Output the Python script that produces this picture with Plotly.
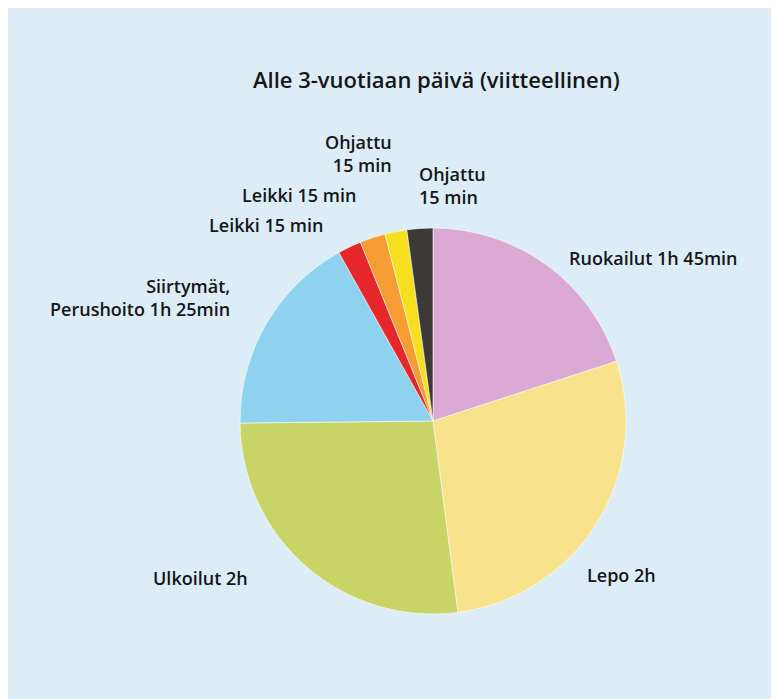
import plotly.graph_objects as go

W, H = 779, 699

# Slices, clockwise from 12 o'clock (sizes as drawn, in degrees)
categories = ["Ruokailut", "Lepo", "Ulkoilut", "Siirtymät, Perushoito",
              "Leikki (1)", "Leikki (2)", "Ohjattu (1)", "Ohjattu (2)"]
drawn_share = [72.0, 100.6, 96.8, 61.4, 7.1, 7.7, 6.6, 7.8]
slice_colors = ["#dba9d4", "#f8e38c", "#c8d466", "#8fd2ef",
                "#e5262b", "#f59d32", "#f6e01e", "#3b3a37"]

label_texts = ["Ruokailut 1h 45min", "Lepo 2h", "Ulkoilut 2h",
               "Siirtymät,<br>Perushoito 1h 25min",
               "Leikki 15 min", "Leikki 15 min",
               "Ohjattu<br>15 min", "Ohjattu<br>15 min"]
title_text = "Alle 3-vuotiaan päivä (viitteellinen)"

# pie geometry in pixels (figure coordinates)
cx, cy, r = 425, 413, 193

fig = go.Figure(go.Pie(
    labels=categories,
    values=drawn_share,
    marker=dict(colors=slice_colors, line=dict(color="rgba(255,255,255,0.55)", width=1)),
    sort=False,
    direction="clockwise",
    rotation=0,
    textinfo="none",
    hoverinfo="label+value",
    showlegend=False,
    domain=dict(x=[(cx - r) / W, (cx + r) / W], y=[1 - (cy + r) / H, 1 - (cy - r) / H]),
))

# label placements (pixel anchor x, y, xanchor)
label_pos = [
    (559, 250, "left"),
    (577, 567, "left"),
    (242, 570, "right"),
    (224, 289, "right"),
    (317, 217, "right"),
    (350, 187, "right"),
    (386, 146, "right"),
    (409, 177, "left"),
]

annotations = []
for txt, (x, y, xa) in zip(label_texts, label_pos):
    annotations.append(dict(
        x=x / W, y=1 - y / H, xref="paper", yref="paper",
        text=txt, showarrow=False, xanchor=xa, yanchor="middle",
        align=xa, font=dict(family="Open Sans", size=18, color="#161616", weight=600),
    ))
annotations.append(dict(
    x=428 / W, y=1 - 71 / H, xref="paper", yref="paper",
    text=title_text, showarrow=False, xanchor="center", yanchor="middle",
    font=dict(family="Open Sans", size=22, color="#161616", weight=600),
))

fig.update_layout(
    width=W, height=H,
    margin=dict(l=0, r=0, t=0, b=0),
    paper_bgcolor="#dcedf8",
    plot_bgcolor="#dcedf8",
    annotations=annotations,
)

fig.write_html("out.html")
